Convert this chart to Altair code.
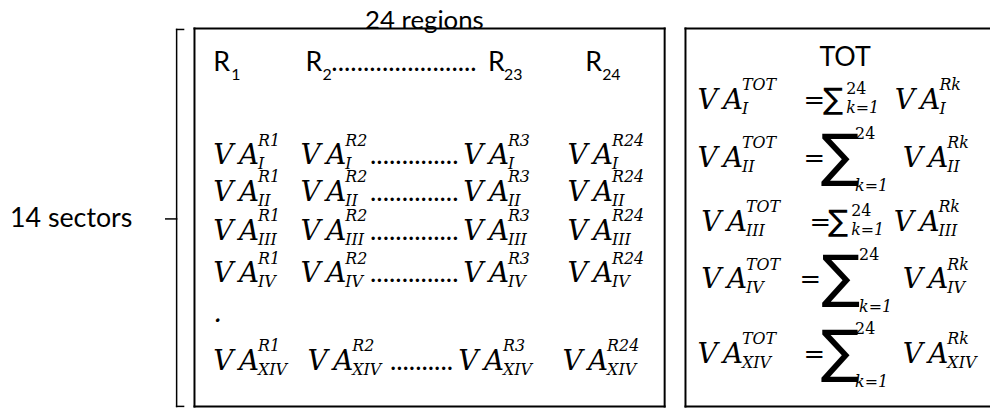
import altair as alt
import pandas as pd

# ---------------- content ----------------
sectors = ["I", "II", "III", "IV", "XIV"]
header_subs = ["1", "2", "23", "24"]          # R_1, R_2, R_23, R_24
cell_regions = ["R1", "R2", "R3", "R24"]      # superscripts in the VA cells
col_title = "24 regions"
row_title = "14 sectors"
total_label = "TOT"
sum_upper = "24"
sum_lower = "k=1"
region_sup = "Rk"
big_sigma = [False, True, False, True, True]  # display-style sum per sector row

# ---------------- layout (page pixels) ----------------
W, H = 990, 402
xs = alt.Scale(domain=[8, 8 + W], nice=False, zero=False)
ys = alt.Scale(domain=[8, 8 + H], nice=False, zero=False, reverse=True)

left_y = [164, 201, 240, 283, 371]
left_x = [[215, 303, 467, 572]] * 4 + [[215, 310, 462, 567]]
left_dots_x = [373, 373, 373, 373, 393]
left_dots_n = [14, 14, 14, 14, 10]

right_y = [108, 167, 231, 289, 364]
va_x = [703, 703, 707, 707, 703]
eq_x = [810, 810, 816, 806, 810]
sig_x = [830, 827, 835, 828, 827]
lim_x = [853, 862, 858, 866, 862]
rk_x = [902, 910, 901, 910, 910]
SUP = 45

sans, ital, upr, sig = [], [], [], []

sans.append(dict(x=368, y=28, t=col_title, s=26))
sans.append(dict(x=10, y=227, t=row_title, s=27))
for xr, xsb, sb in zip([215, 308, 492, 590], [233, 325, 508, 607], header_subs):
    sans.append(dict(x=xr, y=70, t="R", s=27))
    sans.append(dict(x=xsb, y=79, t=sb, s=16))
sans.append(dict(x=334, y=70, t="." * 23, s=27))
sans.append(dict(x=826, y=65, t=total_label, s=27))

for r, sec in enumerate(sectors):
    yb = left_y[r]
    for c, reg in enumerate(cell_regions):
        x0 = left_x[r][c]
        ital.append(dict(x=x0, y=yb, t="V\u2009A", s=28))
        ital.append(dict(x=x0 + SUP, y=yb - 19, t=reg, s=16))
        ital.append(dict(x=x0 + SUP, y=yb + 5, t=sec, s=16))
    sans.append(dict(x=left_dots_x[r], y=yb, t="." * left_dots_n[r], s=27))
ital.append(dict(x=215, y=323, t=".", s=28))

for r, sec in enumerate(sectors):
    yb = right_y[r]
    big = big_sigma[r]
    ital.append(dict(x=va_x[r], y=yb, t="V\u2009A", s=28))
    ital.append(dict(x=va_x[r] + SUP, y=yb - 19, t=total_label, s=16))
    ital.append(dict(x=va_x[r] + SUP, y=yb + 5, t=sec, s=16))
    upr.append(dict(x=eq_x[r], y=yb, t="=", s=26))
    if big:
        sig.append(dict(x=sig_x[r], y=yb + 8, t="\u2211", s=58))
        upr.append(dict(x=lim_x[r], y=yb - 29, t=sum_upper, s=16))
        ital.append(dict(x=lim_x[r], y=yb + 24, t=sum_lower, s=16))
    else:
        sig.append(dict(x=sig_x[r], y=yb, t="\u2211", s=30))
        upr.append(dict(x=lim_x[r], y=yb - 15, t=sum_upper, s=16))
        ital.append(dict(x=lim_x[r], y=yb + 4, t=sum_lower, s=16))
    ital.append(dict(x=rk_x[r], y=yb, t="V\u2009A", s=28))
    ital.append(dict(x=rk_x[r] + SUP, y=yb - 19, t=region_sup, s=16))
    ital.append(dict(x=rk_x[r] + SUP, y=yb + 5, t=sec, s=16))

lines = pd.DataFrame([
    # left box
    dict(x=196, x2=670, y=27, y2=27, w=2),
    dict(x=196, x2=670, y=408, y2=408, w=2),
    dict(x=196, x2=196, y=27, y2=408, w=2),
    dict(x=670, x2=670, y=27, y2=408, w=2),
    # right box (runs past the right edge)
    dict(x=691, x2=1010, y=27, y2=27, w=2),
    dict(x=691, x2=1010, y=408, y2=408, w=2),
    dict(x=691, x2=691, y=27, y2=408, w=2),
    # bracket
    dict(x=178, x2=178, y=28, y2=408, w=1.5),
    dict(x=178, x2=185, y=28, y2=28, w=1.5),
    dict(x=178, x2=185, y=408, y2=408, w=1.5),
    dict(x=167, x2=178, y=219, y2=219, w=1.5),
])


def text_layer(rows, font, style="normal"):
    return alt.Chart(pd.DataFrame(rows)).mark_text(
        font=font, fontStyle=style, align="left", baseline="alphabetic", color="#000"
    ).encode(
        x=alt.X("x:Q", scale=xs, axis=None),
        y=alt.Y("y:Q", scale=ys, axis=None),
        text="t:N",
        size=alt.Size("s:Q", scale=None, legend=None),
    )


rules = alt.Chart(lines).mark_rule(color="#000", strokeCap="square").encode(
    x=alt.X("x:Q", scale=xs, axis=None),
    x2="x2:Q",
    y=alt.Y("y:Q", scale=ys, axis=None),
    y2="y2:Q",
    strokeWidth=alt.StrokeWidth("w:Q", scale=None, legend=None),
)

chart = alt.layer(
    rules,
    text_layer(sans, "Lato"),
    text_layer(ital, "DejaVu Serif", "italic"),
    text_layer(upr, "DejaVu Serif"),
    text_layer(sig, "DejaVu Sans"),
).properties(
    width=W, height=H, padding=0, autosize="none", background="white"
).configure_view(stroke=None)

chart.save("out.html", embed_options={"renderer": "svg", "actions": False})
